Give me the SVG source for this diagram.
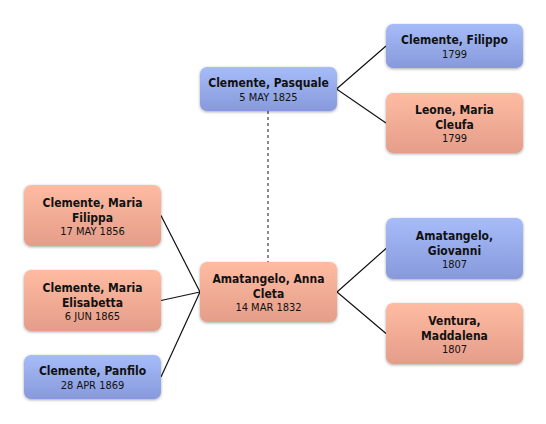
<svg xmlns="http://www.w3.org/2000/svg" width="546" height="424" viewBox="0 0 546 424">
<defs>
<linearGradient id="gb" x1="0" y1="0" x2="0" y2="1">
<stop offset="0" stop-color="#a6bcf8"/>
<stop offset="1" stop-color="#8799dc"/>
</linearGradient>
<linearGradient id="gp" x1="0" y1="0" x2="0" y2="1">
<stop offset="0" stop-color="#ffbba2"/>
<stop offset="1" stop-color="#e49d89"/>
</linearGradient>
<filter id="sh" x="-10%" y="-20%" width="120%" height="150%">
<feGaussianBlur in="SourceAlpha" stdDeviation="1.6"/>
<feOffset dx="0" dy="1" result="b"/>
<feComponentTransfer><feFuncA type="linear" slope="0.35"/></feComponentTransfer>
<feMerge><feMergeNode/><feMergeNode in="SourceGraphic"/></feMerge>
</filter>
</defs>
<style>
.m{fill:url(#gb);filter:url(#sh)}
.f{fill:url(#gp);filter:url(#sh)}
.n{font-family:"DejaVu Sans Condensed","Liberation Sans",sans-serif;font-weight:bold;font-size:12px;fill:#111;text-anchor:middle}
.d{font-family:"DejaVu Sans Condensed","Liberation Sans",sans-serif;font-size:11px;fill:#111;text-anchor:middle}
.c{stroke:#111;stroke-width:1.2;fill:none}
.s{stroke:#666;stroke-width:1.5;stroke-dasharray:3 3;fill:none}
</style>
<rect width="546" height="424" fill="#fff"/>
<g id="connectors">
<line class="s" x1="268" y1="111" x2="268" y2="262"/>
<polyline class="c" points="386,46 336.5,89 386,123"/>
<polyline class="c" points="386,248.5 337,292 386,333.5"/>
<line class="c" x1="161" y1="215.5" x2="200" y2="292"/>
<line class="c" x1="161" y1="300.5" x2="200" y2="292"/>
<line class="c" x1="161" y1="377" x2="200" y2="292"/>
</g>
<g id="pasquale">
<rect class="m" x="200" y="67" width="137" height="44" rx="7"/>
<text class="n" x="268.5" y="87">Clemente, Pasquale</text>
<text class="d" x="268.5" y="101">5 MAY 1825</text>
</g>
<g id="filippo">
<rect class="m" x="386" y="24" width="137" height="44" rx="7"/>
<text class="n" x="454.5" y="44">Clemente, Filippo</text>
<text class="d" x="454.5" y="58">1799</text>
</g>
<g id="leone">
<rect class="f" x="386" y="93" width="137" height="60" rx="7"/>
<text class="n" x="454.5" y="114">Leone, Maria</text>
<text class="n" x="454.5" y="129">Cleufa</text>
<text class="d" x="454.5" y="142">1799</text>
</g>
<g id="anna">
<rect class="f" x="200" y="262" width="137" height="60" rx="7"/>
<text class="n" x="268.5" y="283">Amatangelo, Anna</text>
<text class="n" x="268.5" y="298">Cleta</text>
<text class="d" x="268.5" y="311">14 MAR 1832</text>
</g>
<g id="giovanni">
<rect class="m" x="386" y="218" width="137" height="61" rx="7"/>
<text class="n" x="454.5" y="239.5">Amatangelo,</text>
<text class="n" x="454.5" y="254.5">Giovanni</text>
<text class="d" x="454.5" y="267.5">1807</text>
</g>
<g id="ventura">
<rect class="f" x="386" y="303" width="137" height="61" rx="7"/>
<text class="n" x="454.5" y="324.5">Ventura,</text>
<text class="n" x="454.5" y="339.5">Maddalena</text>
<text class="d" x="454.5" y="352.5">1807</text>
</g>
<g id="maria-filippa">
<rect class="f" x="24" y="185" width="137" height="61" rx="7"/>
<text class="n" x="92.5" y="206.5">Clemente, Maria</text>
<text class="n" x="92.5" y="221.5">Filippa</text>
<text class="d" x="92.5" y="234.5">17 MAY 1856</text>
</g>
<g id="maria-elisabetta">
<rect class="f" x="24" y="270" width="137" height="61" rx="7"/>
<text class="n" x="92.5" y="291.5">Clemente, Maria</text>
<text class="n" x="92.5" y="306.5">Elisabetta</text>
<text class="d" x="92.5" y="319.5">6 JUN 1865</text>
</g>
<g id="panfilo">
<rect class="m" x="24" y="355" width="137" height="44" rx="7"/>
<text class="n" x="92.5" y="375">Clemente, Panfilo</text>
<text class="d" x="92.5" y="389">28 APR 1869</text>
</g>
</svg>
